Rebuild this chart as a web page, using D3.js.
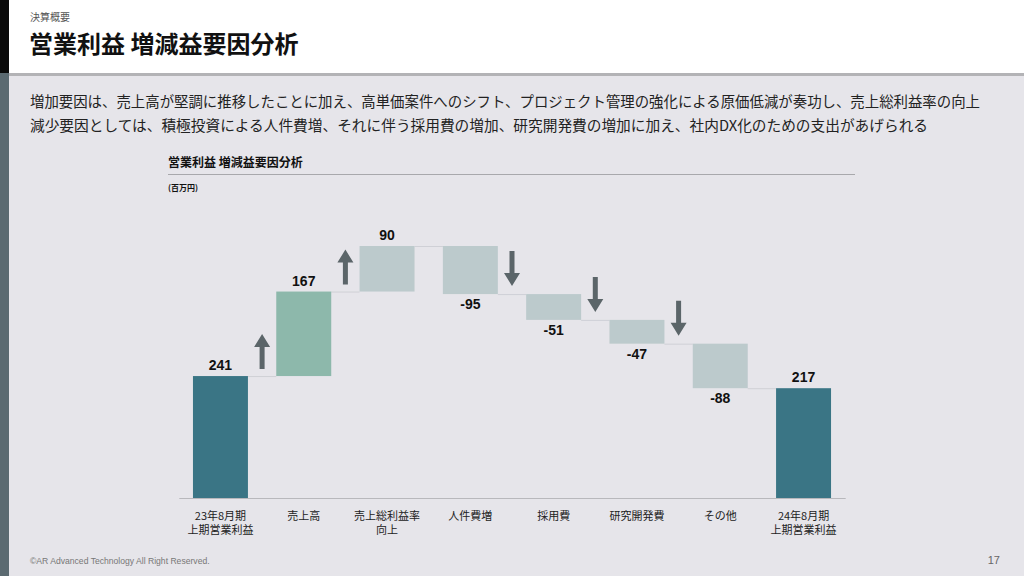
<!DOCTYPE html>
<html><head><meta charset="utf-8">
<script src="https://cdn.jsdelivr.net/npm/d3@7"></script>
<style>body{margin:0;padding:0;background:#e6e5ea;}svg{display:block;}</style>
</head><body>
<script>
const categories = [["23年8月期","上期営業利益"],["売上高"],["売上総利益率","向上"],["人件費増"],["採用費"],["研究開発費"],["その他"],["24年8月期","上期営業利益"]];
const values = [241, 167, 90, -95, -51, -47, -88, 217];
const kinds = ["total","up","up","down","down","down","down","total"];
const arrowAfter = ["up","up",null,"down","down","down",null,null];
const bodyLines = ["増加要因は、売上高が堅調に推移したことに加え、高単価案件へのシフト、プロジェクト管理の強化による原価低減が奏功し、売上総利益率の向上",
"減少要因としては、積極投資による人件費増、それに伴う採用費の増加、研究開発費の増加に加え、社内DX化のための支出があげられる"];

const W=1024,H=576;
const svg=d3.select("body").append("svg").attr("width",W).attr("height",H);
const JP="'Noto Sans CJK JP','Noto Sans',sans-serif";
svg.append("rect").attr("width",W).attr("height",H).attr("fill","#e6e5ea");
// header
svg.append("rect").attr("width",W).attr("height",73).attr("fill","#ffffff");
svg.append("rect").attr("y",73).attr("width",W).attr("height",3).attr("fill","#b3b3b6");
svg.append("rect").attr("width",9).attr("height",73).attr("fill","#0a0a0a");
svg.append("rect").attr("y",73).attr("width",9).attr("height",H-73).attr("fill","#5b6a71");
svg.append("text").attr("x",30).attr("y",21).text("決算概要").attr("font-family",JP).attr("font-size",10).attr("fill","#555");
svg.append("text").attr("x",29).attr("y",53).text("営業利益 増減益要因分析").attr("font-family",JP).attr("font-size",24).attr("font-weight","bold").attr("fill","#111");
const bl=[950,898];
bodyLines.forEach((t,i)=>svg.append("text").attr("x",30).attr("y",107+i*24).text(t)
  .attr("font-family",JP).attr("font-size",14.5).attr("fill","#222").attr("textLength",bl[i]).attr("lengthAdjust","spacingAndGlyphs"));
// chart title
svg.append("text").attr("x",168).attr("y",167).text("営業利益 増減益要因分析").attr("font-family",JP).attr("font-size",12).attr("font-weight","bold").attr("fill","#111");
svg.append("line").attr("x1",168).attr("x2",855).attr("y1",174.5).attr("y2",174.5).attr("stroke","#a8a8ac").attr("stroke-width",1.2);
svg.append("text").attr("x",168).attr("y",191).text("(百万円)").attr("font-family",JP).attr("font-size",8).attr("font-weight","bold").attr("fill","#111");

const x=d3.scaleBand().domain(d3.range(categories.length)).range([178.8,845.2]).paddingInner(0.34).paddingOuter(0.17);
const y=d3.scaleLinear().domain([0,500]).range([498,245]);

// compute waterfall
let run=0; const bars=values.map((v,i)=>{
  let a,b;
  if(kinds[i]==="total"){a=0;b=v;run=v;}
  else {a=run;b=run+v;run=b;}
  return {i,v,lo:Math.min(a,b),hi:Math.max(a,b),end:b,kind:kinds[i]};
});
const color={total:"#3a7585",up:"#bccacc",down:"#bccacc"};
const g=svg.append("g");
// connectors
bars.slice(0,-1).forEach((d,i)=>{
  g.append("line").attr("x1",x(i)+x.bandwidth()).attr("x2",x(i+1))
   .attr("y1",y(d.end)+0.5).attr("y2",y(d.end)+0.5).attr("stroke","#cfd0d6").attr("stroke-width",1);
});
g.selectAll("rect.bar").data(bars).join("rect").attr("class","bar")
  .attr("x",d=>x(d.i)).attr("width",x.bandwidth())
  .attr("y",d=>y(d.hi)).attr("height",d=>y(d.lo)-y(d.hi))
  .attr("fill",d=>d.i===1?"#8db8ab":color[d.kind]);
// axis
const ax=svg.append("g").attr("transform","translate(0,498)").call(d3.axisBottom(x).tickSize(0).tickFormat(""));
ax.select(".domain").attr("stroke","#b8b8bc");
// x labels
categories.forEach((lines,i)=>{
  lines.forEach((t,k)=>svg.append("text").attr("x",x(i)+x.bandwidth()/2).attr("y",520+k*14).attr("text-anchor","middle")
   .text(t).attr("font-family",JP).attr("font-size",11).attr("fill","#222"));
});
// value labels
g.selectAll("text.v").data(bars).join("text").attr("class","v")
  .attr("x",d=>x(d.i)+x.bandwidth()/2)
  .attr("y",d=>d.v>=0?y(d.hi)-6:y(d.lo)+15)
  .attr("text-anchor","middle").text(d=>d.v)
  .attr("font-family","'Liberation Sans',Arial,sans-serif").attr("font-weight","bold").attr("font-size",14).attr("fill","#111");
// arrows
const ac="#5b6569";
arrowAfter.forEach((dir,i)=>{
  if(!dir) return;
  const cx=(x(i)+x.bandwidth()+x(i+1))/2;
  const base=y(bars[i].end);
  const bot=base-7, top=bot-35;
  let p;
  if(dir==="up"){
    p=[[cx-2.5,bot],[cx-2.5,top+13],[cx-8,top+13],[cx,top],[cx+8,top+13],[cx+2.5,top+13],[cx+2.5,bot]];
  } else {
    const tb=base-8, tt=tb-35;
    p=[[cx-2.5,tt],[cx-2.5,tb-13],[cx-8,tb-13],[cx,tb],[cx+8,tb-13],[cx+2.5,tb-13],[cx+2.5,tt]];
  }
  svg.append("path").attr("d",d3.line()(p)+"Z").attr("fill",ac);
});
// footer
svg.append("text").attr("x",30).attr("y",564).text("©AR Advanced Technology All Right Reserved.").attr("font-family","'Liberation Sans',Arial,sans-serif").attr("font-size",8.6).attr("fill","#777");
svg.append("text").attr("x",1000).attr("y",564).attr("text-anchor","end").text("17").attr("font-family","'Liberation Sans',Arial,sans-serif").attr("font-size",11).attr("fill","#666");
</script>
</body></html>
